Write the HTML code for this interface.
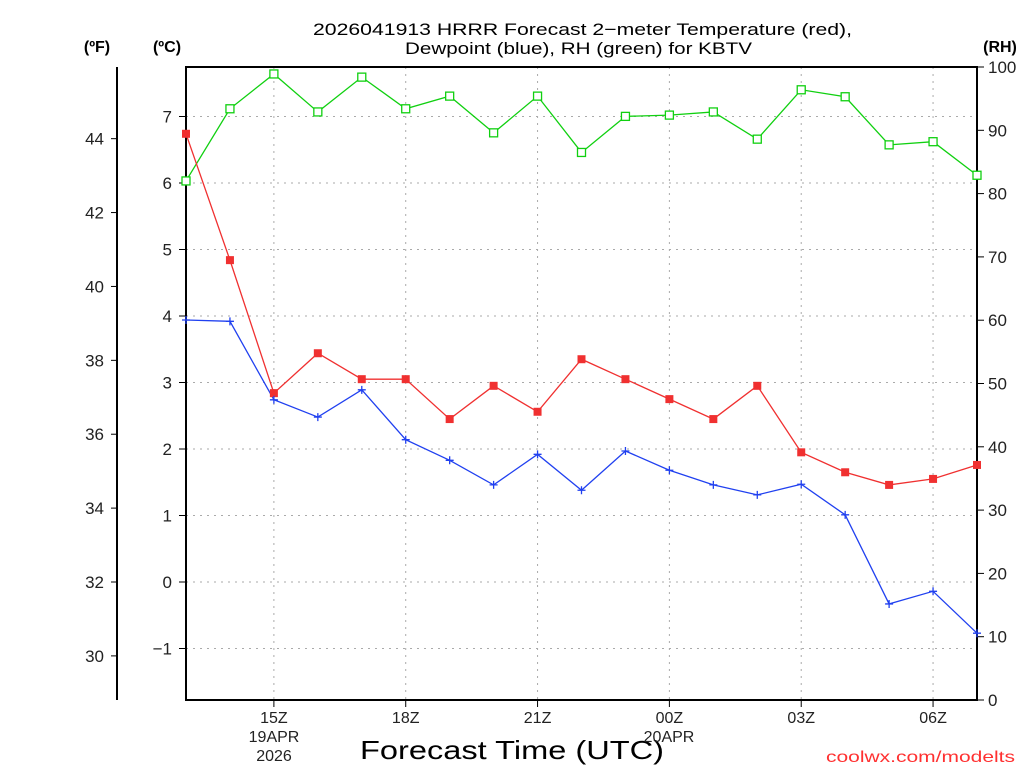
<!DOCTYPE html>
<html><head><meta charset="utf-8"><style>
html,body{margin:0;padding:0;background:#fff;}
svg{display:block;font-family:"Liberation Sans",sans-serif;}
</style></head><body>
<svg id="chart" width="1024" height="768">
<text x="313" y="35" textLength="539" lengthAdjust="spacingAndGlyphs" font-size="17" fill="#000">2026041913 HRRR Forecast 2−meter Temperature (red),</text>
<text x="405" y="54" textLength="347" lengthAdjust="spacingAndGlyphs" font-size="17" fill="#000">Dewpoint (blue), RH (green) for KBTV</text>
<text x="97" y="52" text-anchor="middle" font-size="16" font-weight="bold">(ºF)</text>
<text x="167" y="52" text-anchor="middle" font-size="16" font-weight="bold">(ºC)</text>
<text x="1000" y="52" text-anchor="middle" font-size="16" font-weight="bold">(RH)</text>
<text x="360" y="759" textLength="304" lengthAdjust="spacingAndGlyphs" font-size="26">Forecast Time (UTC)</text>
<text x="826" y="762" textLength="189" lengthAdjust="spacingAndGlyphs" font-size="16" fill="#ff3030">coolwx.com/modelts</text>
<g id="grid"></g><g id="axes"></g><g id="series"></g>
</svg>
<script>
const hours = [13,14,15,16,17,18,19,20,21,22,23,24,25,26,27,28,29,30,31];
const tempC = [6.74,4.84,2.84,3.44,3.05,3.05,2.45,2.95,2.56,3.35,3.05,2.75,2.45,2.95,1.95,1.65,1.46,1.55,1.76];
const dewC = [3.94,3.92,2.74,2.48,2.89,2.14,1.83,1.46,1.92,1.38,1.97,1.68,1.46,1.31,1.47,1.01,-0.33,-0.14,-0.77];
const rh = [82,93.4,98.9,92.9,98.4,93.4,95.4,89.6,95.4,86.5,92.2,92.4,92.9,88.6,96.4,95.3,87.7,88.2,82.9];
const cTicks = [-1,0,1,2,3,4,5,6,7];
const fTicks = [30,32,34,36,38,40,42,44];
const rhTicks = [0,10,20,30,40,50,60,70,80,90,100];
const xTickHours = [15,18,21,24,27,30];
const xTickLabels = ["15Z","18Z","21Z","00Z","03Z","06Z"];
const L=186,R=977,T=67,B=700;
const x=h=>L+(h-13)*(R-L)/18;
const yC=c=>582-66.5*c;
const yF=f=>yC((f-32)*5/9);
const yR=r=>B-r*(B-T)/100;
const NS="http://www.w3.org/2000/svg";
function mk(tag,attrs,parent,txt){const e=document.createElementNS(NS,tag);for(const k in attrs)e.setAttribute(k,attrs[k]);if(txt!==undefined)e.textContent=txt;parent.appendChild(e);return e;}
const grid=document.getElementById('grid'),axes=document.getElementById('axes'),ser=document.getElementById('series');
cTicks.forEach(c=>{const y=yC(c);
 const g=mk('line',{x1:L,x2:R,y1:y,y2:y,stroke:'#aaa','stroke-dasharray':'2,5'},grid);
 
 mk('line',{x1:179,x2:L,y1:y,y2:y,stroke:'#000'},axes);
 const t=mk('text',{x:172,y:y+6,'text-anchor':'end','font-size':17,fill:'#222'},axes,c<0?'−'+(-c):c);
 });
xTickHours.forEach((h,i)=>{const X=x(h);
 const g=mk('line',{x1:X,x2:X,y1:T,y2:B,stroke:'#aaa','stroke-dasharray':'2,5'},grid);
 
 mk('line',{x1:X,x2:X,y1:B,y2:B+7,stroke:'#000'},axes);
 const t=mk('text',{x:X,y:723,'text-anchor':'middle','font-size':16,fill:'#222'},axes,xTickLabels[i]);
 });
[["19APR",274,742],["2026",274,761],["20APR",669,742]].forEach(d=>{const t=mk('text',{x:d[1],y:d[2],'text-anchor':'middle','font-size':16,fill:'#222'},axes,d[0]);
 });
fTicks.forEach(f=>{const y=yF(f);
 mk('line',{x1:111,x2:117,y1:y,y2:y,stroke:'#000'},axes);
 const t=mk('text',{x:104,y:y+6,'text-anchor':'end','font-size':17,fill:'#222'},axes,f);
 });
rhTicks.forEach(r=>{const y=yR(r);
 mk('line',{x1:R,x2:R+7,y1:y,y2:y,stroke:'#000'},axes);
 const t=mk('text',{x:988,y:y+6,'font-size':17,fill:'#222'},axes,r);
 });
const fa=mk('line',{x1:117,x2:117,y1:T,y2:B,stroke:'#000','stroke-width':2},axes);

const fr=mk('rect',{x:L,y:T,width:R-L,height:B-T,fill:'none',stroke:'#000','stroke-width':2},axes);

function line(vals,yf,color,name){const p=mk('polyline',{points:vals.map((v,i)=>x(hours[i])+','+yf(v)).join(' '),fill:'none',stroke:color,'stroke-width':1.3},ser);
 }
line(rh,yR,'#10d010','rh-line');line(tempC,yC,'#f03030','temperature-line');line(dewC,yC,'#2040f0','dewpoint-line');
rh.forEach((v,i)=>{const m=mk('rect',{x:x(hours[i])-4,y:yR(v)-4,width:8,height:8,fill:'#fff',stroke:'#10d010','stroke-width':1.3},ser);
 });
tempC.forEach((v,i)=>{const m=mk('rect',{x:x(hours[i])-4,y:yC(v)-4,width:8,height:8,fill:'#f03030'},ser);
 });
dewC.forEach((v,i)=>{const X=x(hours[i]),Y=yC(v);
 const m=mk('path',{d:`M${X-4},${Y}H${X+4}M${X},${Y-4}V${Y+4}`,stroke:'#2040f0','stroke-width':1.3},ser);
 });
</script>
</body></html>
